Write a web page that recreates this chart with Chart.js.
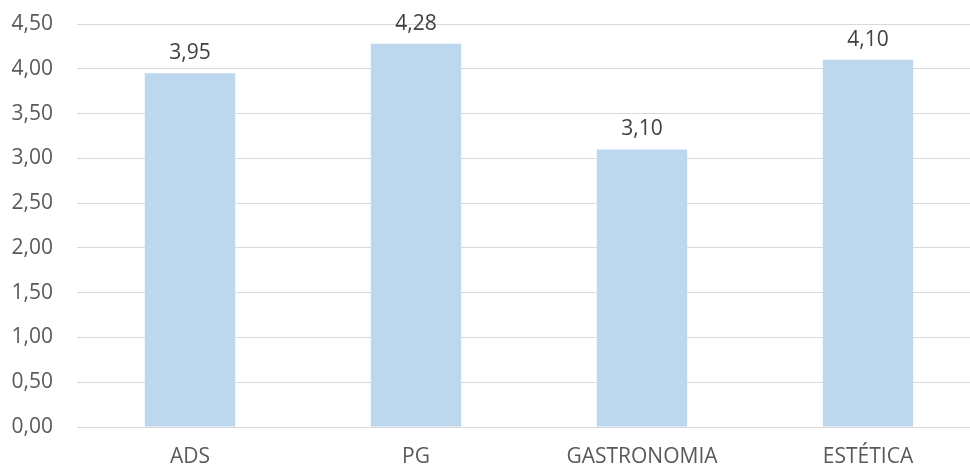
<!DOCTYPE html>
<html>
<head>
<meta charset="utf-8">
<script src="https://cdn.jsdelivr.net/npm/chart.js@4"></script>
<style>
  html, body { margin: 0; padding: 0; background: #fff; overflow: hidden; }
  #wrap { width: 970px; height: 468px; overflow: hidden; }
</style>
</head>
<body>
<div id="wrap"><canvas id="myChart" width="981" height="468"></canvas></div>
<script>
var categories = ['ADS', 'PG', 'GASTRONOMIA', 'ESTÉTICA'];
var scores = [3.95, 4.28, 3.10, 4.10];
var yTicks = [0, 0.5, 1, 1.5, 2, 2.5, 3, 3.5, 4, 4.5];

function fmt(v) {
    return v.toFixed(2).replace('.', ',');
}

// draws the value above each bar
var barLabels = {
    id: 'barLabels',
    afterDatasetsDraw: function(chart) {
        var ctx = chart.ctx;
        var meta = chart.getDatasetMeta(0);
        ctx.save();
        ctx.fillStyle = '#404040';
        ctx.font = '21px "Open Sans"';
        ctx.textAlign = 'center';
        ctx.textBaseline = 'alphabetic';
        meta.data.forEach(function(bar, i) {
            ctx.fillText(fmt(scores[i]), bar.x, bar.y - 14);
        });
        ctx.restore();
    }
};

var ctx = document.getElementById('myChart').getContext('2d');
var chart = new Chart(ctx, {
    type: 'bar',
    data: {
        labels: categories,
        datasets: [{
            data: scores,
            backgroundColor: '#BDD7EE',
            categoryPercentage: 1,
            barPercentage: 0.4
        }]
    },
    options: {
        responsive: false,
        animation: false,
        layout: {
            padding: { left: 0, right: 0, top: 24, bottom: 0 }
        },
        plugins: {
            legend: { display: false },
            tooltip: { enabled: false }
        },
        scales: {
            x: {
                grid: { display: false, drawTicks: false },
                border: { display: false },
                ticks: {
                    color: '#595959',
                    font: { family: 'Open Sans', size: 21 },
                    padding: 17
                },
                afterFit: function(scale) {
                    scale.height = 41;
                    scale.paddingLeft = 0;
                    scale.paddingRight = 0;
                }
            },
            y: {
                min: 0,
                max: 4.5,
                afterBuildTicks: function(scale) {
                    scale.ticks = yTicks.map(function(v) { return { value: v }; });
                },
                grid: { color: '#d9d9d9', lineWidth: 1, drawTicks: false },
                border: { display: false },
                ticks: {
                    color: '#595959',
                    font: { family: 'Open Sans', size: 21 },
                    padding: 24,
                    callback: function(v) { return fmt(v); }
                },
                afterFit: function(scale) {
                    scale.width = 77;
                    scale.paddingTop = 0;
                    scale.paddingBottom = 0;
                }
            }
        }
    },
    plugins: [barLabels]
});
</script>
</body>
</html>
